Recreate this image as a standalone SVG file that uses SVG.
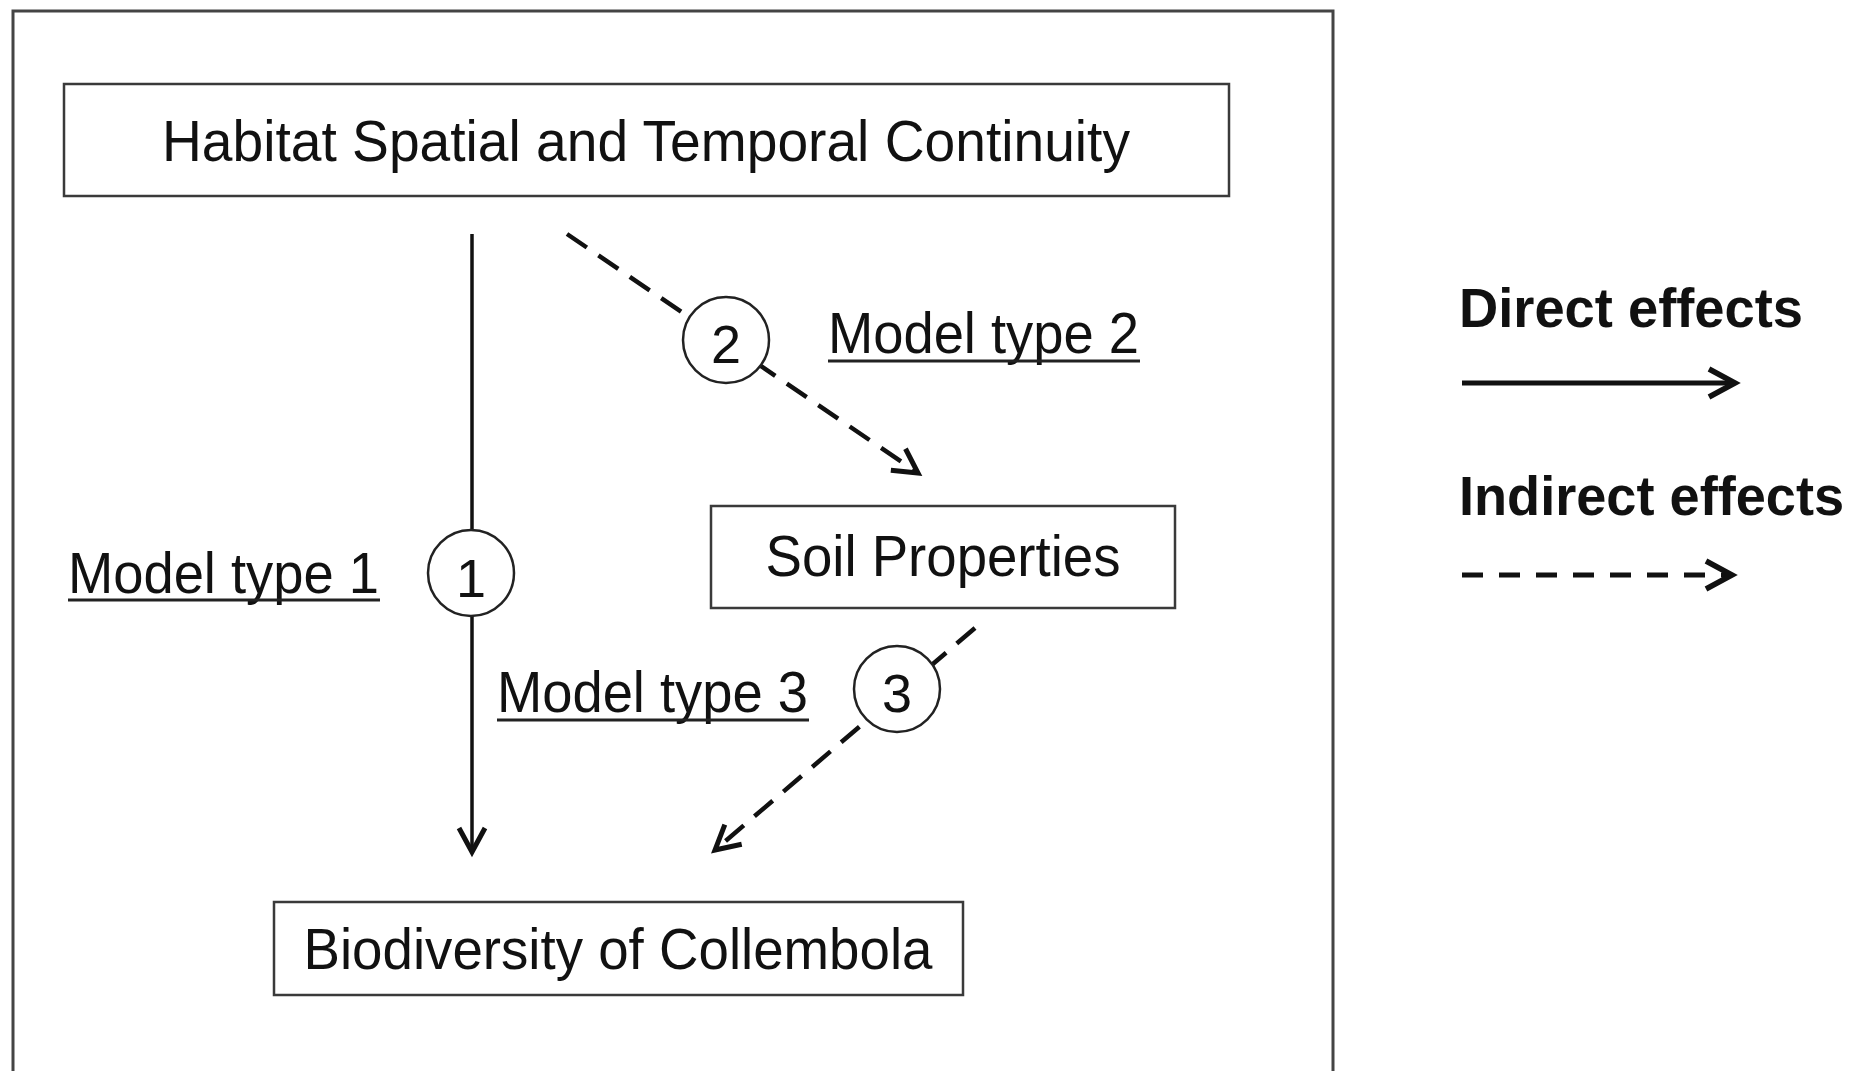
<svg xmlns="http://www.w3.org/2000/svg" width="1871" height="1071" viewBox="0 0 1871 1071">
<style>
.frame{fill:none;stroke:#444;stroke-width:3}
.box{fill:#fff;stroke:#3a3a3a;stroke-width:2.5}
.t{font-family:"Liberation Sans",Arial,sans-serif;font-size:58px;fill:#111}
.b{font-family:"Liberation Sans",Arial,sans-serif;font-size:56px;font-weight:bold;fill:#111}
.num{font-family:"Liberation Sans",Arial,sans-serif;font-size:54px;fill:#111;text-anchor:middle}
.solid{fill:none;stroke:#111;stroke-width:3.5}
.dash{fill:none;stroke:#111;stroke-width:4.5;stroke-dasharray:24 14}
.circ{fill:#fff;stroke:#222;stroke-width:2.5}
.ul{stroke:#222;stroke-width:3}
</style>
<defs>
<marker id="ah" markerUnits="userSpaceOnUse" markerWidth="40" markerHeight="40" viewBox="-30 -20 40 40" refX="0" refY="0" orient="auto">
<path d="M-24,-13 L0,0 L-24,13" fill="none" stroke="#111" stroke-width="5"/>
</marker>
<marker id="ahL" markerUnits="userSpaceOnUse" markerWidth="40" markerHeight="40" viewBox="-32 -20 40 40" refX="0" refY="0" orient="auto">
<path d="M-26,-14 L0,0 L-26,14" fill="none" stroke="#111" stroke-width="5.5"/>
</marker>
</defs>
<rect width="1871" height="1071" fill="#fff"/>
<path class="frame" d="M13,1071 V11 H1333 V1071"/>
<g id="connectors">
<line class="solid" x1="472" y1="234" x2="472" y2="852" marker-end="url(#ah)"/>
<line class="dash" x1="567" y1="234" x2="918" y2="473" marker-end="url(#ah)"/>
<line class="dash" x1="975" y1="628" x2="715" y2="850" marker-end="url(#ah)"/>
</g>
<g id="node-habitat">
<rect class="box" x="64" y="84" width="1165" height="112"/>
<text class="t" x="646" y="161" text-anchor="middle" textLength="968" lengthAdjust="spacingAndGlyphs">Habitat Spatial and Temporal Continuity</text>
</g>
<g id="node-soil">
<rect class="box" x="711" y="506" width="464" height="102"/>
<text class="t" x="943" y="576" text-anchor="middle" textLength="355" lengthAdjust="spacingAndGlyphs">Soil Properties</text>
</g>
<g id="node-bio">
<rect class="box" x="274" y="902" width="689" height="93"/>
<text class="t" x="618" y="969" text-anchor="middle" textLength="629" lengthAdjust="spacingAndGlyphs">Biodiversity of Collembola</text>
</g>
<g id="marker-1">
<circle class="circ" cx="471" cy="573" r="43"/>
<text class="num" x="471" y="597">1</text>
</g>
<g id="marker-2">
<circle class="circ" cx="726" cy="340" r="43"/>
<text class="num" x="726" y="363">2</text>
</g>
<g id="marker-3">
<circle class="circ" cx="897" cy="689" r="43"/>
<text class="num" x="897" y="712">3</text>
</g>
<g id="label-1">
<text class="t" x="68" y="593" textLength="311" lengthAdjust="spacingAndGlyphs">Model type 1</text>
<line class="ul" x1="68" y1="600" x2="380" y2="600"/>
</g>
<g id="label-2">
<text class="t" x="828" y="353" textLength="311" lengthAdjust="spacingAndGlyphs">Model type 2</text>
<line class="ul" x1="828" y1="361" x2="1140" y2="361"/>
</g>
<g id="label-3">
<text class="t" x="497" y="712" textLength="311" lengthAdjust="spacingAndGlyphs">Model type 3</text>
<line class="ul" x1="497" y1="720" x2="809" y2="720"/>
</g>
<g id="legend">
<text class="b" x="1459" y="327" textLength="344" lengthAdjust="spacingAndGlyphs">Direct effects</text>
<line x1="1462" y1="383" x2="1735" y2="383" stroke="#111" stroke-width="5" marker-end="url(#ahL)"/>
<text class="b" x="1459" y="515" textLength="385" lengthAdjust="spacingAndGlyphs">Indirect effects</text>
<line x1="1462" y1="575" x2="1732" y2="575" stroke="#111" stroke-width="5" stroke-dasharray="21 16" marker-end="url(#ahL)"/>
</g>
</svg>
